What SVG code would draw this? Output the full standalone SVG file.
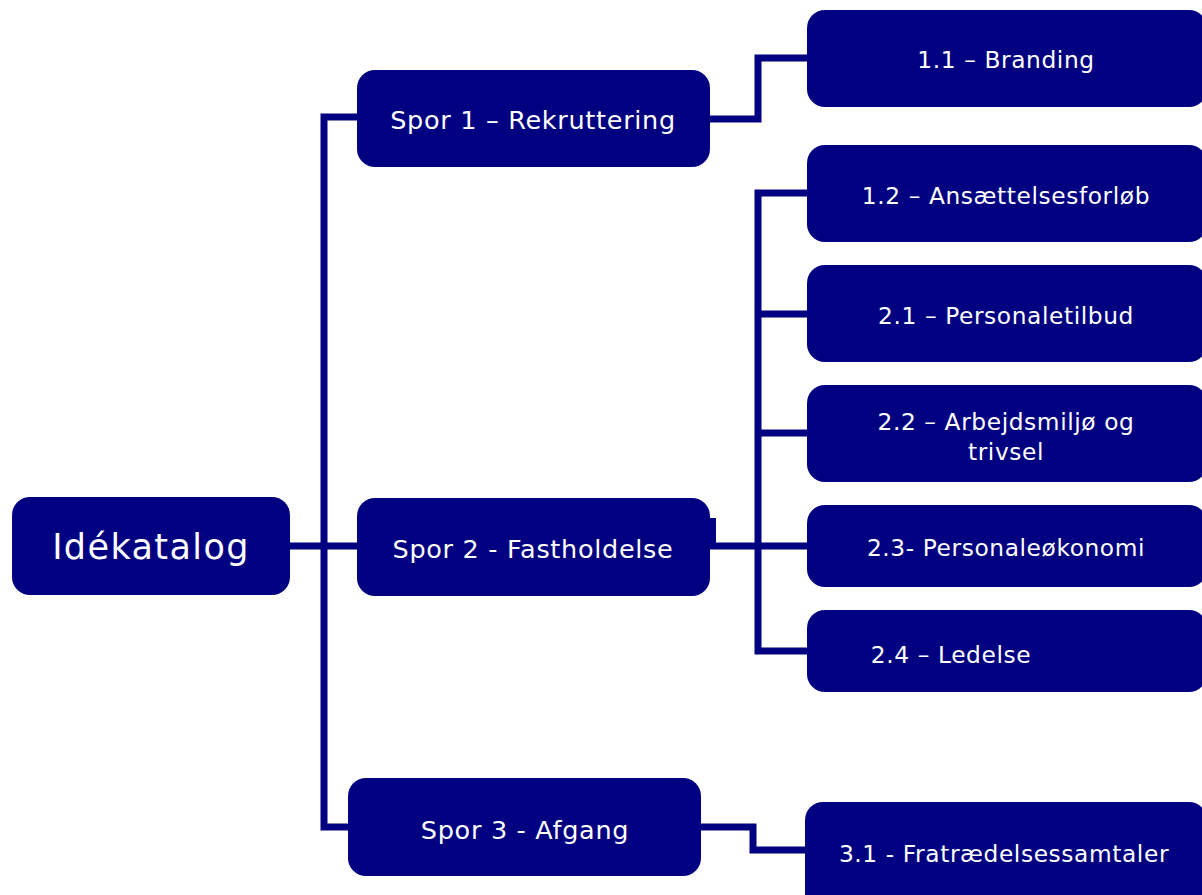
<svg xmlns="http://www.w3.org/2000/svg" width="1202" height="895" viewBox="0 0 1202 895">
<style>
.box{fill:#000080;}
.t{fill:#ffffff;font-family:"DejaVu Sans",Verdana,sans-serif;font-size:25.5px;letter-spacing:0.7px;text-anchor:middle;dominant-baseline:central;}
.s{font-size:23.3px;letter-spacing:0.6px;}
.big{font-size:35px;letter-spacing:1.4px;}
.c{fill:none;stroke:#000080;stroke-width:7;stroke-linejoin:miter;stroke-linecap:butt;}
</style>
<rect width="1202" height="895" fill="#ffffff"/>
<g id="connectors">
<path class="c" d="M290 546 H357"/>
<path class="c" d="M357 117 H324 V827 H348"/>
<path class="c" d="M710 119 H758 V58 H807"/>
<path class="c" d="M710 546 H807"/>
<path class="c" d="M807 193 H758 V651 H807"/>
<path class="c" d="M758 314 H807"/>
<path class="c" d="M758 433 H807"/>
<path class="c" d="M701 827 H753 V850 H805"/>
<rect x="708" y="518" width="8" height="30" fill="#000080"/>
</g>
<g id="n-idekatalog"><rect class="box" x="12" y="497" width="278" height="98" rx="18"/><text class="t big" x="151" y="547">Idékatalog</text></g>
<g id="n-spor1"><rect class="box" x="357" y="70" width="353" height="97" rx="18"/><text class="t" x="533" y="120">Spor 1 – Rekruttering</text></g>
<g id="n-spor2"><rect class="box" x="357" y="498" width="353" height="98" rx="18"/><text class="t" x="533" y="549">Spor 2 - Fastholdelse</text></g>
<g id="n-spor3"><rect class="box" x="348" y="778" width="353" height="98" rx="18"/><text class="t" x="525" y="830">Spor 3 - Afgang</text></g>
<g id="n-11"><rect class="box" x="807" y="10" width="400" height="97" rx="18"/><text class="t s" x="1006" y="59">1.1 – Branding</text></g>
<g id="n-12"><rect class="box" x="807" y="145" width="400" height="97" rx="18"/><text class="t s" x="1006" y="195">1.2 – Ansættelsesforløb</text></g>
<g id="n-21"><rect class="box" x="807" y="265" width="400" height="97" rx="18"/><text class="t s" x="1006" y="315">2.1 – Personaletilbud</text></g>
<g id="n-22"><rect class="box" x="807" y="385" width="400" height="97" rx="18"/><text class="t s" x="1006" y="421">2.2 – Arbejdsmiljø og</text><text class="t s" x="1006" y="451">trivsel</text></g>
<g id="n-23"><rect class="box" x="807" y="505" width="400" height="82" rx="18"/><text class="t s" x="1006" y="547">2.3- Personaleøkonomi</text></g>
<g id="n-24"><rect class="box" x="807" y="610" width="400" height="82" rx="18"/><text class="t s" x="951" y="654">2.4 – Ledelse</text></g>
<g id="n-31"><rect class="box" x="805" y="802" width="402" height="110" rx="18"/><text class="t s" x="1004" y="853">3.1 - Fratrædelsessamtaler</text></g>
</svg>
